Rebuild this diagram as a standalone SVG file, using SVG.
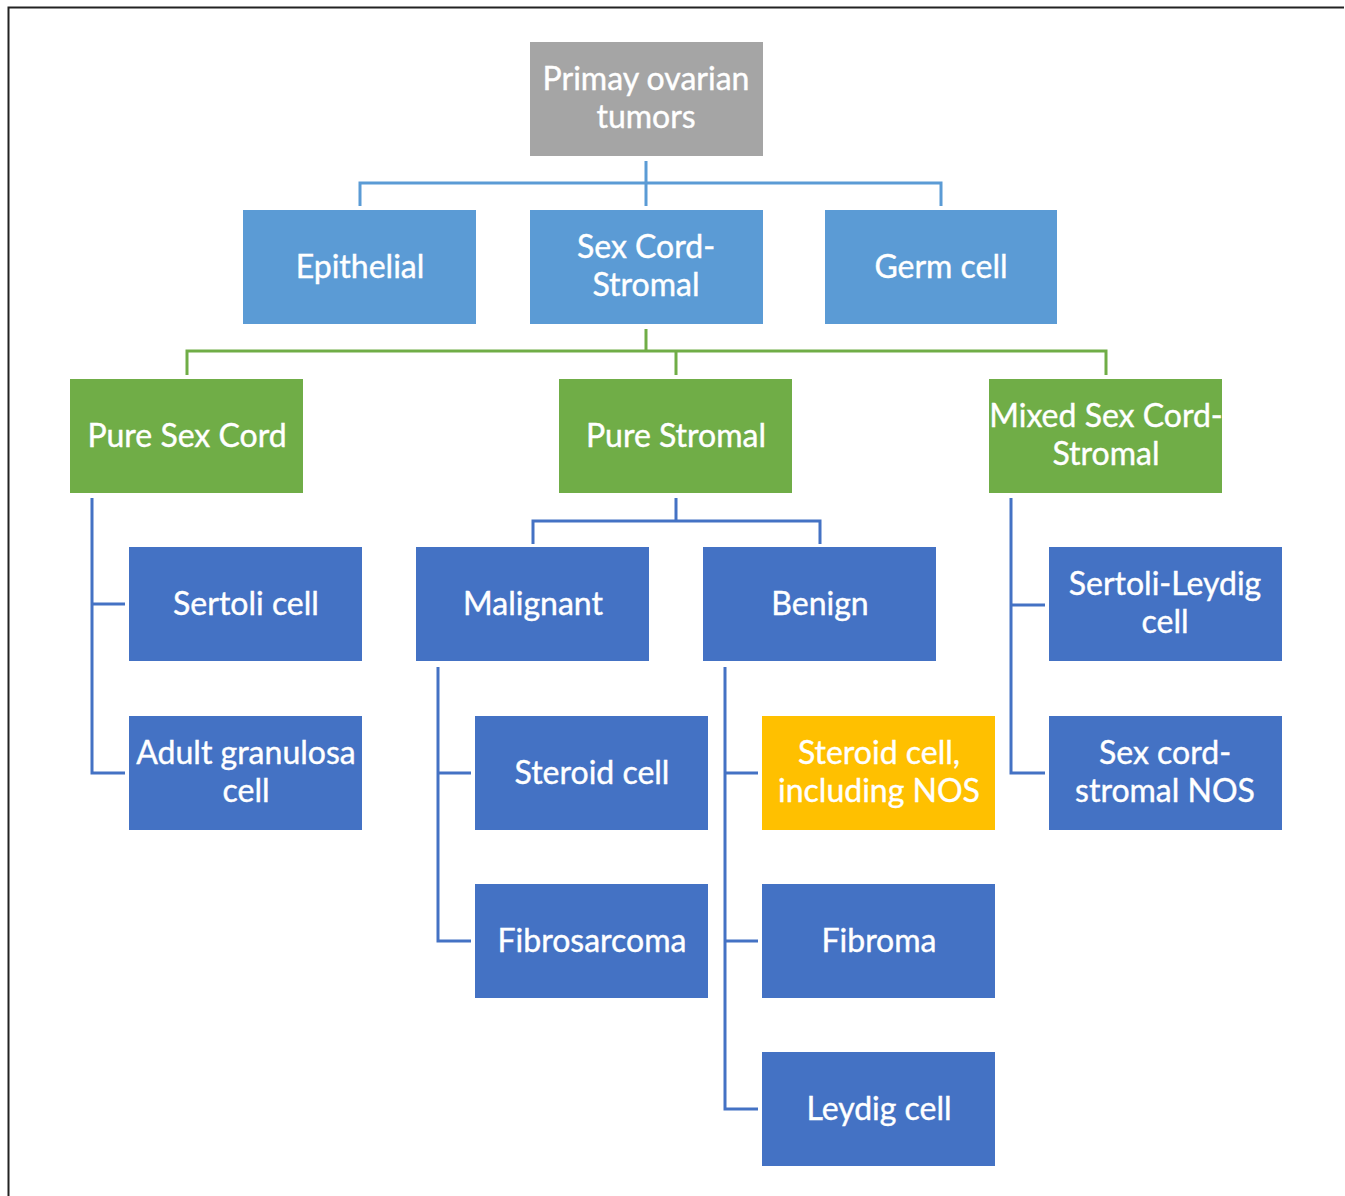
<svg xmlns="http://www.w3.org/2000/svg" width="1345" height="1196" viewBox="0 0 1345 1196">
<style>
.n rect{stroke:none}
.g{fill:#A5A5A5}.lb{fill:#5B9BD5}.gr{fill:#70AD47}.db{fill:#4472C4}.y{fill:#FFC000}
text{font-family:Lato,"Open Sans","Liberation Sans",sans-serif;font-size:32px;fill:#fff;text-anchor:middle;stroke:#fff;stroke-width:0.4}
.c path{fill:none;stroke-width:3}
</style>
<rect x="0" y="0" width="1345" height="1196" fill="#fff"/>
<path d="M8.5 1196 V7.5 H1344" fill="none" stroke="#222" stroke-width="2"/>
<g class="c" id="connectors">
<path stroke="#5B9BD5" d="M646 161 V206 M360 206 V183 H941 V206"/>
<path stroke="#70AD47" d="M646 329 V351 M187 375 V351 H1106 V375 M676 351 V375"/>
<path stroke="#4472C4" d="M92 498 V773 H125 M92 604 H125"/>
<path stroke="#4472C4" d="M676 498 V521 M533 544 V521 H820 V544"/>
<path stroke="#4472C4" d="M438 667 V941 H471 M438 773 H471"/>
<path stroke="#4472C4" d="M725 667 V1109 H758 M725 773 H758 M725 941 H758"/>
<path stroke="#4472C4" d="M1011 498 V773 H1045 M1011 605 H1045"/>
</g>
<g class="n" id="primary"><rect class="g" x="530" y="42" width="233" height="114"/><text x="646" y="90">Primay ovarian</text><text x="646" y="128">tumors</text></g>
<g class="n" id="epithelial"><rect class="lb" x="243" y="210" width="233" height="114"/><text x="360" y="278">Epithelial</text></g>
<g class="n" id="sexcordstromal"><rect class="lb" x="530" y="210" width="233" height="114"/><text x="646" y="258">Sex Cord-</text><text x="646" y="296">Stromal</text></g>
<g class="n" id="germcell"><rect class="lb" x="825" y="210" width="232" height="114"/><text x="941" y="278">Germ cell</text></g>
<g class="n" id="puresexcord"><rect class="gr" x="70" y="379" width="233" height="114"/><text x="187" y="447">Pure Sex Cord</text></g>
<g class="n" id="purestromal"><rect class="gr" x="559" y="379" width="233" height="114"/><text x="676" y="447">Pure Stromal</text></g>
<g class="n" id="mixed"><rect class="gr" x="989" y="379" width="233" height="114"/><text x="1106" y="427">Mixed Sex Cord-</text><text x="1106" y="465">Stromal</text></g>
<g class="n" id="sertoli"><rect class="db" x="129" y="547" width="233" height="114"/><text x="246" y="615">Sertoli cell</text></g>
<g class="n" id="malignant"><rect class="db" x="416" y="547" width="233" height="114"/><text x="533" y="615">Malignant</text></g>
<g class="n" id="benign"><rect class="db" x="703" y="547" width="233" height="114"/><text x="820" y="615">Benign</text></g>
<g class="n" id="sertolileydig"><rect class="db" x="1049" y="547" width="233" height="114"/><text x="1165" y="595">Sertoli-Leydig</text><text x="1165" y="633">cell</text></g>
<g class="n" id="granulosa"><rect class="db" x="129" y="716" width="233" height="114"/><text x="246" y="764">Adult granulosa</text><text x="246" y="802">cell</text></g>
<g class="n" id="steroidcell"><rect class="db" x="475" y="716" width="233" height="114"/><text x="592" y="784">Steroid cell</text></g>
<g class="n" id="steroidnos"><rect class="y" x="762" y="716" width="233" height="114"/><text x="879" y="764">Steroid cell,</text><text x="879" y="802">including NOS</text></g>
<g class="n" id="sexcordnos"><rect class="db" x="1049" y="716" width="233" height="114"/><text x="1165" y="764">Sex cord-</text><text x="1165" y="802">stromal NOS</text></g>
<g class="n" id="fibrosarcoma"><rect class="db" x="475" y="884" width="233" height="114"/><text x="592" y="952">Fibrosarcoma</text></g>
<g class="n" id="fibroma"><rect class="db" x="762" y="884" width="233" height="114"/><text x="879" y="952">Fibroma</text></g>
<g class="n" id="leydig"><rect class="db" x="762" y="1052" width="233" height="114"/><text x="879" y="1120">Leydig cell</text></g>
</svg>
